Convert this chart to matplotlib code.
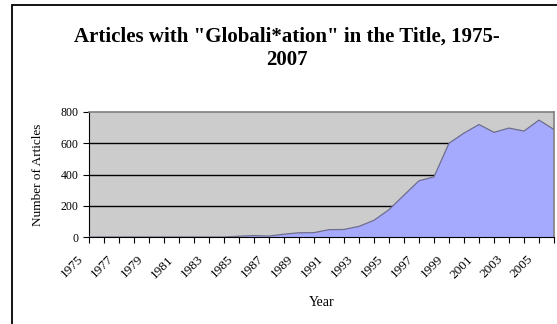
import matplotlib
matplotlib.use("Agg")
import matplotlib.pyplot as plt
from matplotlib.patches import Rectangle
from matplotlib.transforms import ScaledTranslation

# articles per year, 1975-2006
years = list(range(1975, 2007))
articles = [0, 0, 0, 0, 0, 0, 0, 0, 0, 0,
            5, 9, 6, 18, 27, 28, 47, 48, 68, 107,
            175, 268, 360, 385, 600, 665, 720, 670, 697, 678,
            748, 688]
y_ticks = [0, 200, 400, 600, 800]
x_labels = [str(y) if (y - 1975) % 2 == 0 else "" for y in years]

plt.rcParams['font.family'] = ['Liberation Serif', 'DejaVu Serif']

fig = plt.figure(figsize=(5.57, 3.24), dpi=100)
ax = fig.add_axes([89 / 557, 1 - 237 / 324, (554 - 89) / 557, (237 - 112) / 324])

# outer chart frame (runs off the right and bottom edges)
fig.patches.append(Rectangle((12 / 557, -0.1), 1.2, 1 - 5 / 324 + 0.1,
                             transform=fig.transFigure, fill=False,
                             edgecolor='black', linewidth=1.3, zorder=0))

ax.set_facecolor('#cccccc')
for v in y_ticks[1:-1]:
    ax.axhline(v, color='black', linewidth=1, zorder=1)

ax.fill_between(years, articles, 0, facecolor='#a6aaff', edgecolor='none', zorder=2)
ax.plot(years, articles, color='#6e6e8c', linewidth=0.9, zorder=3)

ax.set_xlim(years[0], years[-1])
ax.set_ylim(0, 800)
ax.set_yticks(y_ticks)
ax.set_xticks(years)
ax.set_xticklabels(x_labels, rotation=45, ha='right', va='center',
                   rotation_mode='anchor', fontsize=9.5)
ax.tick_params(axis='y', direction='out', length=4.3, labelsize=8.5, pad=3)
ax.tick_params(axis='x', direction='out', length=4.3, pad=10.5)
shift = ScaledTranslation(-8 / 100, 0, fig.dpi_scale_trans)
for lab in ax.get_xticklabels():
    lab.set_transform(lab.get_transform() + shift)

for side in ['left', 'bottom']:
    ax.spines[side].set_color('black')
for side in ['top', 'right']:
    ax.spines[side].set_color('#808080')
    ax.spines[side].set_linewidth(1.2)

ax.set_ylabel('Number of Articles', fontsize=9.5, labelpad=12)
ax.set_xlabel('Year', fontsize=10, labelpad=11)

title_x = 287 / 557
fig.text(title_x, 1 - 41.7 / 324, 'Articles with "Globali*ation" in the Title, 1975-',
         ha='center', va='baseline', fontsize=15, fontweight='bold')
fig.text(title_x, 1 - 65 / 324, '2007', ha='center', va='baseline',
         fontsize=15, fontweight='bold')

fig.savefig('out.png', dpi=100)
